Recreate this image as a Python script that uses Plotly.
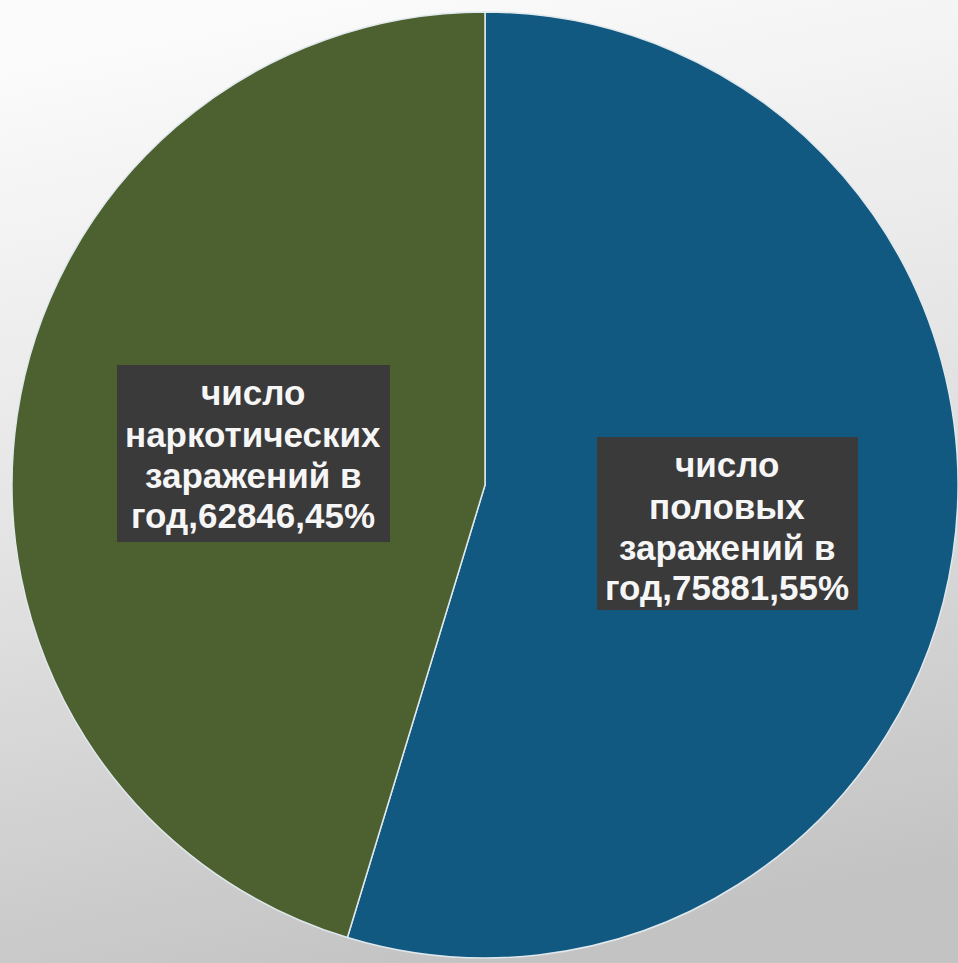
import base64
import plotly.graph_objects as go

# Annual infections by route
categories = ["число половых заражений в год", "число наркотических заражений в год"]
values = [75881, 62846]
# Wrapped category text as it appears in the data labels
label_lines = [
    ["число", "половых", "заражений в", "год"],
    ["число", "наркотических", "заражений в", "год"],
]
colors = ["#125982", "#4d6030"]

W, H = 958, 963
total = sum(values)
percents = [round(v / total * 100) for v in values]

fig = go.Figure(
    go.Pie(
        labels=categories,
        values=values,
        sort=False,
        direction="clockwise",
        rotation=0,
        textinfo="none",
        hoverinfo="label+value+percent",
        marker=dict(colors=colors, line=dict(color="#dfe8ec", width=1.5)),
        domain=dict(x=[12 / W, 1.0], y=[5 / H, 1 - 12 / H]),
        showlegend=False,
    )
)

# Soft grey backdrop, light at the top and darker toward the bottom
svg = (
    '<svg xmlns="http://www.w3.org/2000/svg" width="958" height="963">'
    '<defs><linearGradient id="g" x1="0.3" y1="0" x2="0.5" y2="1">'
    '<stop offset="0" stop-color="#fbfbfb"/>'
    '<stop offset="0.45" stop-color="#e6e6e6"/>'
    '<stop offset="1" stop-color="#c3c3c3"/>'
    '</linearGradient></defs>'
    '<rect width="958" height="963" fill="url(#g)"/></svg>'
)
bg_src = "data:image/svg+xml;base64," + base64.b64encode(svg.encode()).decode()

# Data-label boxes (pixel placement inside the page)
boxes = [
    dict(x0=597, x1=858, y0=437, y1=610, cx=727, ys=[465, 506, 547, 587]),
    dict(x0=117, x1=390, y0=365, y1=542, cx=253, ys=[392, 434, 475, 515]),
]

shapes = []
annotations = []
for i, b in enumerate(boxes):
    shapes.append(dict(
        type="rect", xref="paper", yref="paper",
        x0=b["x0"] / W, x1=b["x1"] / W,
        y0=1 - b["y1"] / H, y1=1 - b["y0"] / H,
        fillcolor="#3a3a3b", line=dict(width=0), layer="above",
    ))
    lines = list(label_lines[i])
    lines[-1] = f"{lines[-1]},{values[i]},{percents[i]}%"
    for text, yy in zip(lines, b["ys"]):
        annotations.append(dict(
            text=text, xref="paper", yref="paper",
            x=b["cx"] / W, y=1 - yy / H,
            xanchor="center", yanchor="middle", showarrow=False,
            font=dict(family="Liberation Sans, Arial, sans-serif",
                      size=35, color="#f6f6f6", weight="bold"),
        ))

fig.update_layout(
    width=W, height=H,
    margin=dict(l=0, r=0, t=0, b=0),
    paper_bgcolor="#e4e4e4",
    plot_bgcolor="rgba(0,0,0,0)",
    images=[dict(source=bg_src, xref="paper", yref="paper", x=0, y=1,
                 sizex=1, sizey=1, xanchor="left", yanchor="top",
                 sizing="stretch", layer="below")],
    shapes=shapes,
    annotations=annotations,
)

fig.write_html("out.html")
